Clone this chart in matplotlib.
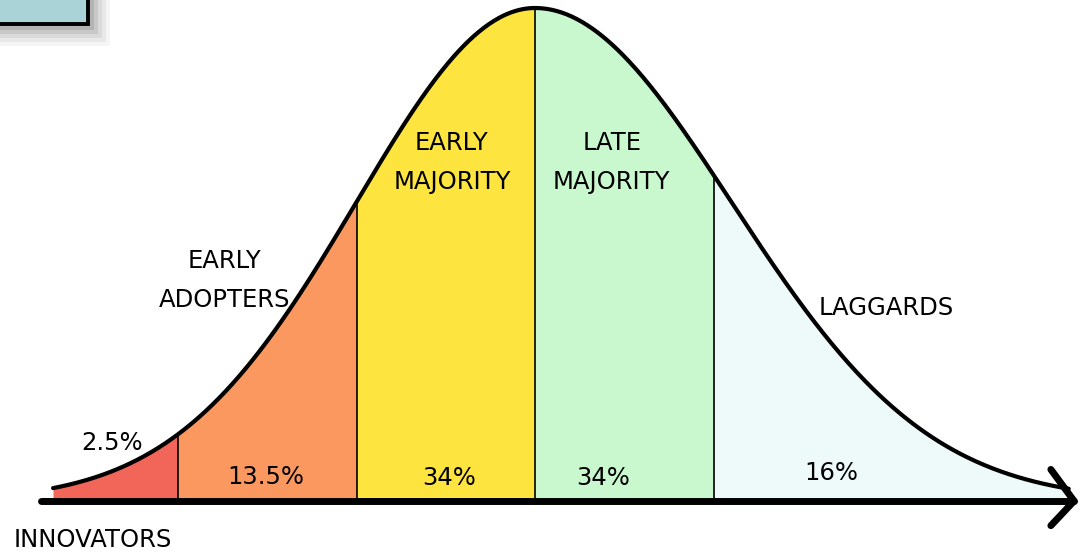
import numpy as np
import matplotlib
matplotlib.use("Agg")
import matplotlib.pyplot as plt
from matplotlib.patches import Rectangle

# adopter categories, share of adopters, boundaries in standard deviations
categories = ["INNOVATORS", "EARLY\nADOPTERS", "EARLY\nMAJORITY", "LATE\nMAJORITY", "LAGGARDS"]
shares = ["2.5%", "13.5%", "34%", "34%", "16%"]
edges = [-2.7, -2.0, -1.0, 0.0, 1.0, 2.99]
colors = ["#F2665A", "#FA9860", "#FDE43E", "#C9F8CE", "#EEFAFA"]

# hand drawn curve is a bit wider on the right
sigma_left = 1.0
sigma_right = 1.1


def bell(x):
    s = np.where(x < 0, sigma_left, sigma_right)
    return np.exp(-0.5 * (x / s) ** 2)


fig = plt.figure(figsize=(10.89, 5.57), dpi=100)
ax = fig.add_axes([0, 0, 1, 1])
ax.set_xlim(-535 / 178.5, (1089 - 535) / 178.5)
ax.set_ylim(-56 / 493, 501 / 493)
ax.axis("off")

for i in range(len(categories)):
    xs = np.linspace(edges[i], edges[i + 1], 200)
    ax.fill_between(xs, 0, bell(xs), color=colors[i], lw=0, zorder=1)

# dividers between categories
for e in edges[1:-1]:
    ax.plot([e, e], [0, bell(np.array(e))], color="black", lw=1.2, zorder=2)

xs = np.linspace(edges[0], edges[-1], 600)
ax.plot(xs, bell(xs), color="black", lw=3, solid_capstyle="round", zorder=3)

# axis line with arrow
ax.plot([-2.77, 3.02], [0, 0], color="black", lw=5, solid_capstyle="round", zorder=4)
ax.plot([2.89, 3.02, 2.89], [0.064, 0, -0.05], color="black", lw=5,
        solid_capstyle="round", solid_joinstyle="round", zorder=4)

font = dict(family="DejaVu Sans", color="black", ha="center", va="center")

# category names
name_pos = [(-2.48, -0.079), (-1.737, 0.448), (-0.465, 0.686), (0.43, 0.686), (1.97, 0.391)]
for name, (x, y) in zip(categories, name_pos):
    ax.text(x, y, name, fontsize=17.5, linespacing=1.8, zorder=5, **font)

# percentages
share_pos = [(-2.37, 0.118), (-1.507, 0.049), (-0.482, 0.047), (0.381, 0.047), (1.658, 0.057)]
for s, (x, y) in zip(shares, share_pos):
    ax.text(x, y, s, fontsize=17.5, zorder=5, **font)

# cropped box in the top left corner with soft shadow
for k, a in enumerate([0.04, 0.05, 0.06, 0.08, 0.1, 0.12]):
    off = (22 - 4 * k)
    fig.patches.append(Rectangle((0, 1 - (24 + off) / 557), (88 + off) / 1089, 1,
                                 transform=fig.transFigure, facecolor="black",
                                 edgecolor="none", alpha=a, zorder=0))
fig.patches.append(Rectangle((-0.01, 1 - 24 / 557), 0.01 + 88 / 1089, 0.1,
                             transform=fig.transFigure, facecolor="#A9D3D6",
                             edgecolor="black", lw=2.8, zorder=1))

fig.savefig("out.png", dpi=100)
